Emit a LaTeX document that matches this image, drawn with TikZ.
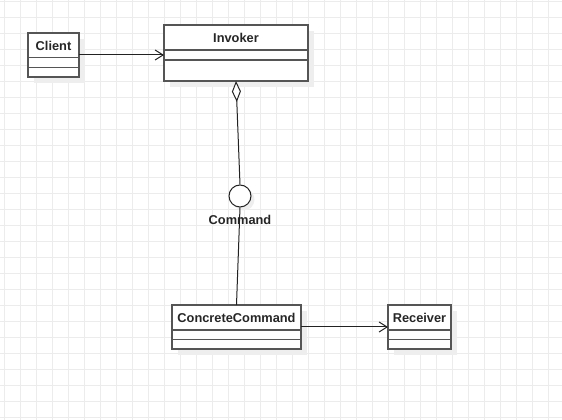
\documentclass[tikz,border=0pt]{standalone}
\usepackage{fontspec}
\setmainfont{Liberation Sans}
\usetikzlibrary{arrows.meta}
\definecolor{gridc}{RGB}{236,236,236}
\definecolor{boxc}{RGB}{85,85,85}
\definecolor{shad}{RGB}{238,238,238}
\definecolor{linec}{RGB}{34,34,34}
\begin{document}
\begin{tikzpicture}[x=0.75pt,y=-0.75pt,
  box/.style={draw=boxc, line width=1.05pt, fill=white, inner sep=0pt, outer sep=0pt, anchor=north west},
  shadowbox/.style={fill=shad, draw=none, inner sep=0pt, outer sep=0pt, anchor=north west},
  lbl/.style={font=\fontsize{9.6}{12}\selectfont\bfseries, text=black!85, inner sep=0pt},
  sepline/.style={draw=boxc, line width=1.05pt},
  conn/.style={draw=linec, line width=0.75pt},
  arr/.style={conn, -{Straight Barb[length=6pt, width=7.5pt]}},
]
\fill[white] (0,0) rectangle (562,420);
\useasboundingbox (0,0) rectangle (562,420);
% grid
\foreach \gx in {4.7,20.7,...,562} \draw[gridc, line width=0.75pt] (\gx,0) -- (\gx,420);
\foreach \gy in {1.3,17.3,...,420} \draw[gridc, line width=0.75pt] (0,\gy) -- (562,\gy);

% Client
\node[shadowbox, minimum width=38.25pt, minimum height=33pt] (clientsh) at (34,39) {};
\node[box, minimum width=38.25pt, minimum height=33pt] (client) at (28,33) {};
\draw[sepline] (28,57.5) -- (79,57.5);
\draw[sepline] (28,67.3) -- (79,67.3);
\node[lbl] (clientlbl) at (53.5,45.5) {Client};

% Invoker
\node[shadowbox, minimum width=108pt, minimum height=42pt] (invokersh) at (170,31) {};
\node[box, minimum width=108pt, minimum height=42pt] (invoker) at (164,25) {};
\draw[sepline] (164,50) -- (308,50);
\draw[sepline] (164,60) -- (308,60);
\node[lbl] (invokerlbl) at (236,37.5) {Invoker};

% ConcreteCommand
\node[shadowbox, minimum width=96.75pt, minimum height=33pt] (ccsh) at (178,311) {};
\node[box, minimum width=96.75pt, minimum height=33pt] (cc) at (172,305) {};
\draw[sepline] (172,330) -- (301,330);
\draw[sepline] (172,339.5) -- (301,339.5);
\node[lbl] (cclbl) at (236.5,317.5) {ConcreteCommand};

% Receiver
\node[shadowbox, minimum width=47.25pt, minimum height=33pt] (recsh) at (394,311) {};
\node[box, minimum width=47.25pt, minimum height=33pt] (rec) at (388,305) {};
\draw[sepline] (388,330) -- (451,330);
\draw[sepline] (388,339.5) -- (451,339.5);
\node[lbl] (reclbl) at (419.5,317.5) {Receiver};

% Command interface (lollipop)
\fill[shad] (243.5,199.5) circle[radius=8.25pt];
\node[circle, draw=linec, line width=0.75pt, fill=white, minimum size=16.5pt, inner sep=0pt] (cmd) at (240,196) {};
\node[lbl] (cmdlbl) at (240,220) {Command};

% connectors
\draw[arr] (client.east) -- (invoker.west |- client.east);
\draw[conn, {Diamond[open, fill=white, length=15.75pt, width=6.75pt]}-] (invoker.south) -- (cmd.north);
\draw[conn] (cmd.south) -- (cc.north);
\draw[arr] (cc.east) -- (rec.west);
\end{tikzpicture}
\end{document}
